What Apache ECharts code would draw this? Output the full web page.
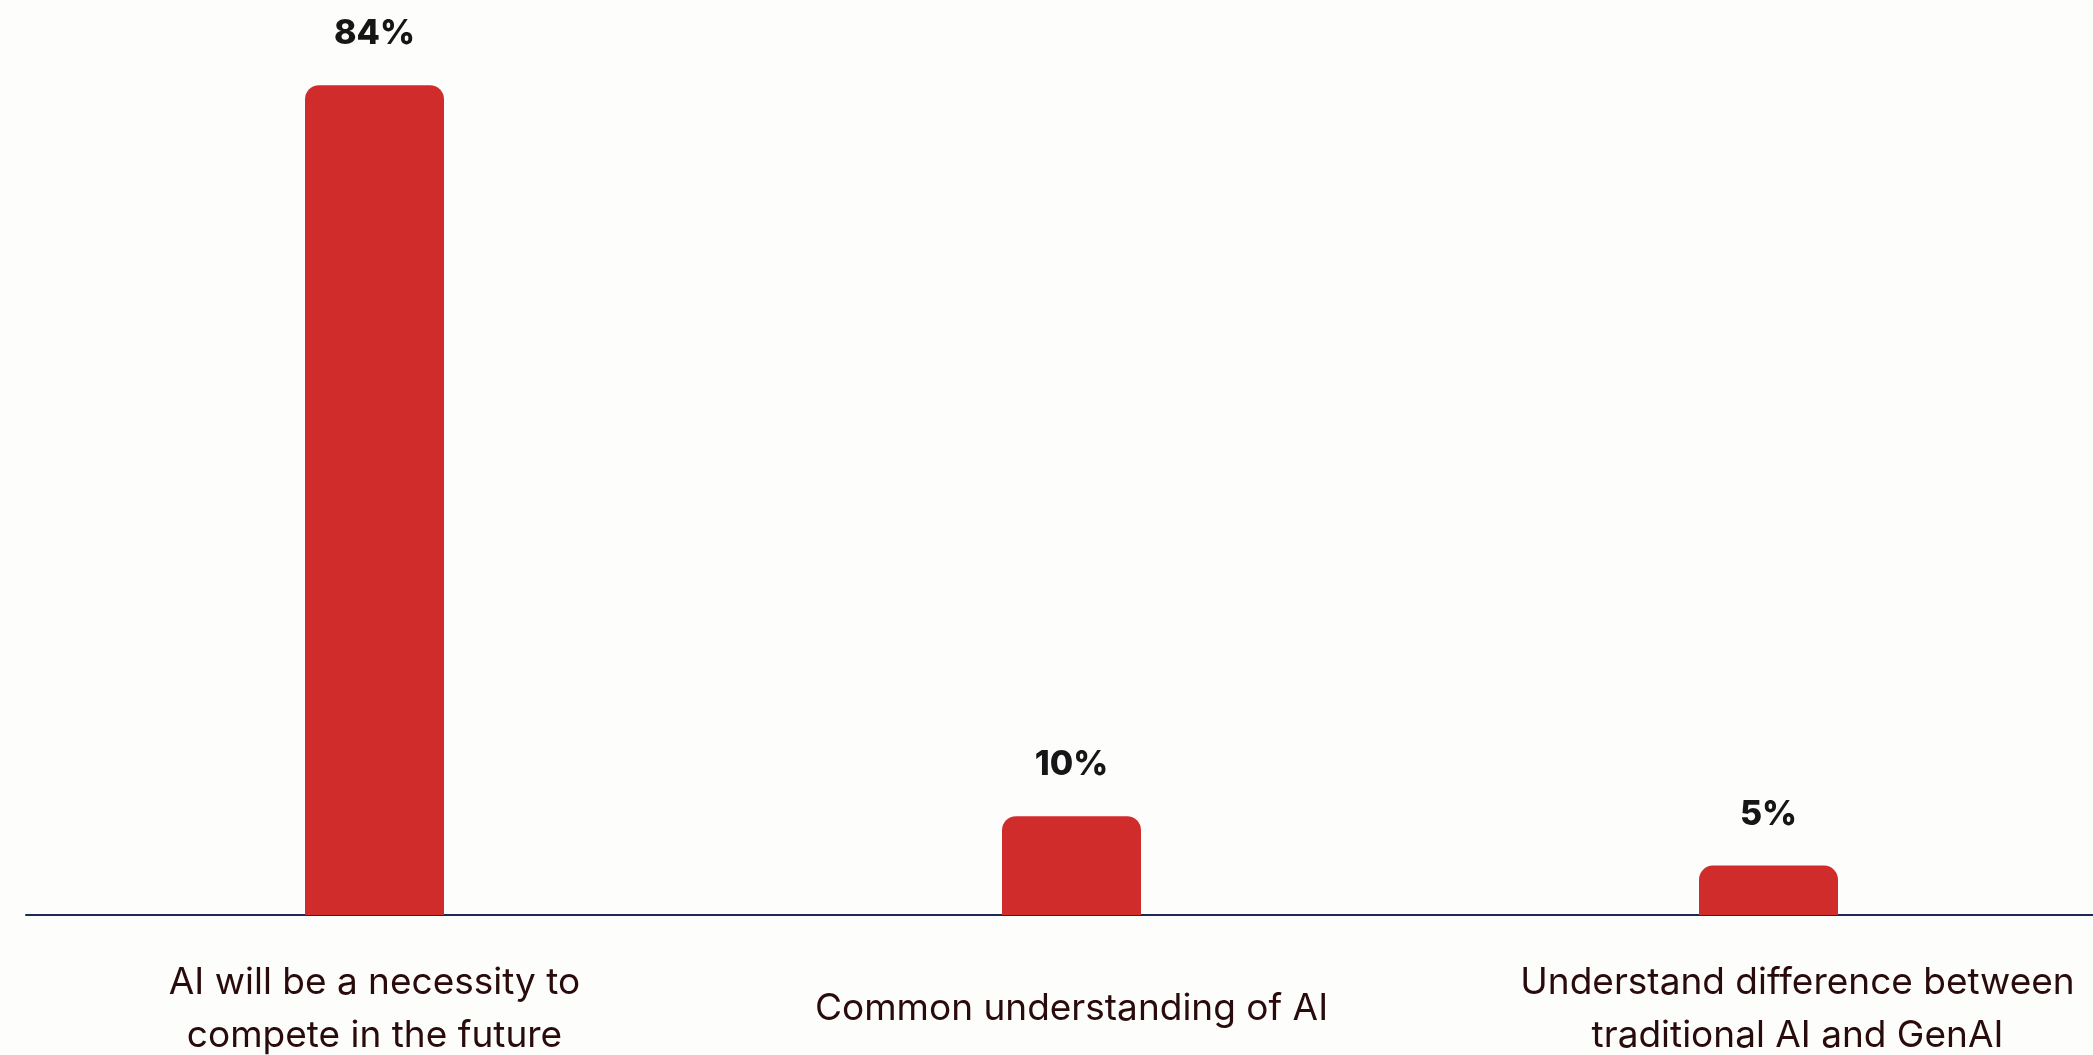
<!DOCTYPE html>
<html>
<head>
<meta charset="utf-8">
<script src="https://cdn.jsdelivr.net/npm/echarts@6/dist/echarts.min.js"></script>
<style>
  html, body { margin: 0; padding: 0; background: #fdfefc; }
  #chart { width: 2093px; height: 1055px; }
</style>
</head>
<body>
<div id="chart"></div>
<script>
// data
const categories = [
  'AI will be a necessity to\ncompete in the future',
  'Common understanding of AI',
  'Understand difference between\ntraditional AI and GenAI'
];
const values = [84, 10, 5];

const labelStyle = {
  margin: 94,
  verticalAlign: 'middle',
  color: '#2a0b0b',
  fontFamily: 'Inter, sans-serif',
  fontSize: 37,
  lineHeight: 53
};

const chart = echarts.init(document.getElementById('chart'));

const option = {
  backgroundColor: '#fdfefc',
  animation: false,
  grid: {
    left: 26,
    right: -24,
    top: 26,
    bottom: 140,
    outerBoundsMode: 'none',
    containLabel: false
  },
  xAxis: {
    type: 'category',
    data: categories.map(function (c, i) {
      // last label sits a bit right of its bar in the original
      if (i !== 2) return c;
      return {
        value: c,
        textStyle: Object.assign({}, labelStyle, { padding: [0, 0, 0, 58] })
      };
    }),
    axisLine: { show: true, lineStyle: { color: '#1c2858', width: 2 } },
    axisTick: { show: false },
    axisLabel: Object.assign({ interval: 0 }, labelStyle)
  },
  yAxis: {
    type: 'value',
    min: 0,
    max: 90,
    show: false,
    splitLine: { show: false }
  },
  series: [
    {
      type: 'bar',
      data: values,
      barWidth: 139,
      itemStyle: {
        color: '#d12c2c',
        borderRadius: [14, 14, 0, 0]
      },
      label: {
        show: true,
        position: 'top',
        distance: 34,
        formatter: '{c}%',
        color: '#161616',
        fontFamily: 'Inter, sans-serif',
        fontWeight: 800,
        fontSize: 34
      }
    }
  ]
};

chart.setOption(option);
</script>
</body>
</html>
